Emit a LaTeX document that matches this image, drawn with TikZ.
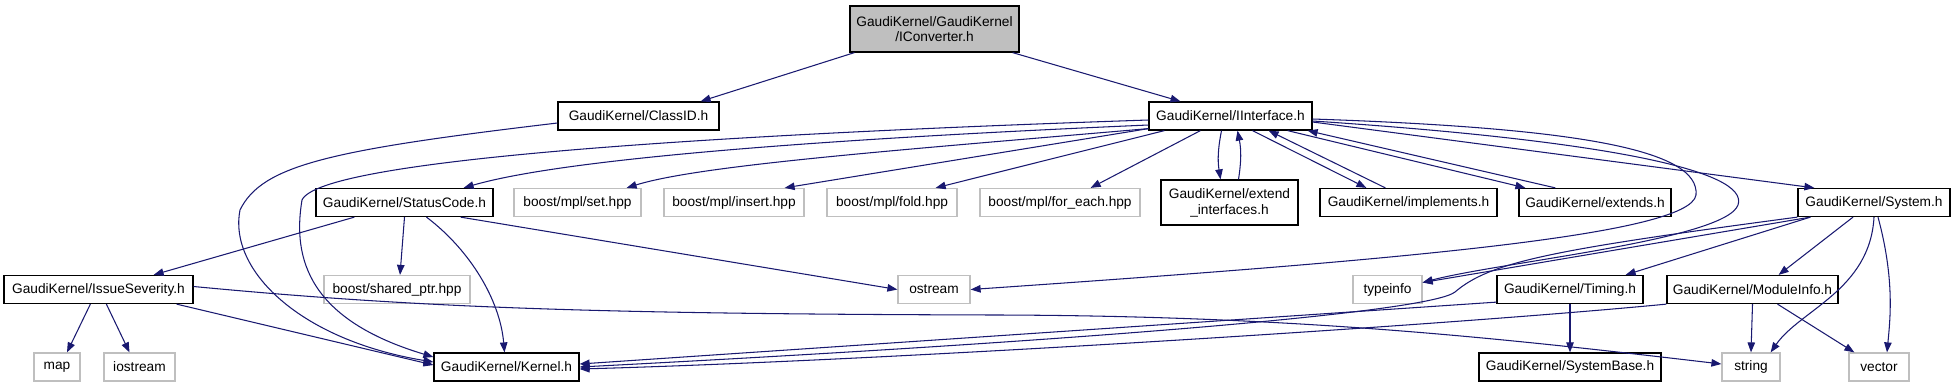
\documentclass[tikz,border=0pt]{standalone}
\usepackage{fontspec}
\setmainfont{Liberation Sans}
\usetikzlibrary{arrows.meta,calc}
\definecolor{edgeblue}{HTML}{191970}
\definecolor{boxgray}{HTML}{BFBFBF}
\tikzset{
	hdr/.style={draw=black, fill=white, line width=0.7pt, inner sep=0pt,
		minimum height=28*0.02cm, minimum width=#1*0.02cm, font=\fontsize{7.8}{9}\selectfont},
	sys/.style={hdr=#1, draw=boxgray},
	dep/.style={draw=edgeblue, line width=0.6pt, -{Triangle[length=0.2cm,width=0.15cm]}},
}
\begin{document}
\begin{tikzpicture}[x=0.02cm, y=-0.02cm]
	\useasboundingbox (0,0) rectangle (1957,387);
	% Nodes:
	\node[hdr=169, minimum height=46*0.02cm, fill=boxgray, align=center] (conv) at (934.5,29) {GaudiKernel/GaudiKernel\\/IConverter.h};
	\node[hdr=161] (classid) at (638.5,116) {GaudiKernel/ClassID.h};
	\node[hdr=163] (iface) at (1230.5,116) {GaudiKernel/IInterface.h};
	\node[hdr=177] (status) at (404.5,202.5) {GaudiKernel/StatusCode.h};
	\node[sys=127] (mplset) at (577.5,202.5) {boost/mpl/set.hpp};
	\node[sys=140] (mplinsert) at (734,202.5) {boost/mpl/insert.hpp};
	\node[sys=130] (mplfold) at (892,202.5) {boost/mpl/fold.hpp};
	\node[sys=160] (mplforeach) at (1060,202.5) {boost/mpl/for\_each.hpp};
	\node[hdr=137, minimum height=45*0.02cm, align=center] (extif) at (1229.5,202.5) {GaudiKernel/extend\\\_interfaces.h};
	\node[hdr=177] (impl) at (1408.5,202.5) {GaudiKernel/implements.h};
	\node[hdr=152] (ext) at (1595,202.5) {GaudiKernel/extends.h};
	\node[hdr=152] (system) at (1874,202.5) {GaudiKernel/System.h};
	\node[hdr=189] (issue) at (98.5,289.5) {GaudiKernel/IssueSeverity.h};
	\node[sys=146] (sharedptr) at (397,289.5) {boost/shared\_ptr.hpp};
	\node[sys=72] (ostream) at (934,289.5) {ostream};
	\node[sys=69] (typeinfo) at (1387.5,289.5) {typeinfo};
	\node[hdr=146] (timing) at (1570,289.5) {GaudiKernel/Timing.h};
	\node[hdr=171] (moduleinfo) at (1752.5,289.5) {GaudiKernel/ModuleInfo.h};
	\node[sys=46] (map) at (57,367) {map};
	\node[sys=71] (iostream) at (139.5,367) {iostream};
	\node[hdr=145] (kernel) at (506.5,367) {GaudiKernel/Kernel.h};
	\node[hdr=182] (sysbase) at (1570,367) {GaudiKernel/SystemBase.h};
	\node[sys=58] (string) at (1751,367) {string};
	\node[sys=60] (vector) at (1879,367) {vector};
	% Includes of IConverter.h and ClassID.h:
	\draw[dep] ($(conv.south west)+(5,0)$) -- ($(classid.north east)+(-19,0)$);
	\draw[dep] ($(conv.south east)+(-7,0)$) -- ($(iface.north)+(-50,0)$);
	\draw[dep] ($(classid.west)+(0,7)$) .. controls (330,150) and (262,165) .. (240,210) .. controls (228,270) and (300,340) .. ($(kernel.west)+(0,-5)$);
	% Includes of IInterface.h:
	\draw[dep] ($(iface.west)+(0,4)$) .. controls (700,135) and (320,160) .. (302,200) .. controls (292,260) and (310,320) .. ($(kernel.west)+(0,-10)$);
	\draw[dep] ($(iface.west)+(0,9)$) .. controls (800,140) and (560,160) .. ($(status.north east)+(-30,0)$);
	\draw[dep] ($(iface.south west)+(0,-2)$) .. controls (900,150) and (700,165) .. ($(mplset.north east)+(-15,0)$);
	\draw[dep] ($(iface.south west)+(0,-2)$) -- ($(mplinsert.north east)+(-20,0)$);
	\draw[dep] ($(iface.south west)+(16,0)$) -- ($(mplfold.north east)+(-22,0)$);
	\draw[dep] ($(iface.south west)+(52,0)$) -- ($(mplforeach.north east)+(-50,0)$);
	\draw[dep] ($(iface.south)+(-9,0)$) to[bend right=10] ($(extif.north)+(-9,0)$);
	\draw[dep] ($(extif.north)+(9,0)$) to[bend right=10] ($(iface.south)+(7,0)$);
	\draw[dep] ($(iface.south)+(22,0)$) -- ($(impl.north west)+(47,0)$);
	\draw[dep] ($(impl.north west)+(66,0)$) -- ($(iface.south east)+(-44,0)$);
	\draw[dep] ($(iface.south east)+(-25,0)$) -- ($(ext.north west)+(7,0)$);
	\draw[dep] ($(ext.north west)+(37,0)$) -- ($(iface.south east)+(-5,0)$);
	\draw[dep] ($(iface.east)+(0,6)$) -- ($(system.north west)+(17,0)$);
	\draw[dep] ($(iface.east)+(0,3)$) .. controls (1580,128) and (1700,150) .. (1696,195) .. controls (1690,235) and (1400,260) .. (ostream.east);
	\draw[dep] ($(iface.east)+(0,5)$) .. controls (1600,140) and (1750,170) .. (1738,205) .. controls (1725,240) and (1500,262) .. ($(typeinfo.east)+(0,-7)$);
	% Includes of StatusCode.h and IssueSeverity.h:
	\draw[dep] ($(status.south west)+(39,0)$) -- ($(issue.north east)+(-40,0)$);
	\draw[dep] (status.south) -- ($(sharedptr.north)+(3,0)$);
	\draw[dep] ($(status.south)+(22,0)$) .. controls (470,250) and (500,300) .. ($(kernel.north)+(-2,0)$);
	\draw[dep] ($(status.south east)+(-33,0)$) -- (ostream.west);
	\draw[dep] ($(issue.south west)+(87,0)$) -- ($(map.north)+(10,0)$);
	\draw[dep] ($(issue.south west)+(103,0)$) -- ($(iostream.north)+(-10,0)$);
	\draw[dep] ($(issue.south east)+(-17,0)$) -- ($(kernel.west)+(0,-2)$);
	\draw[dep] ($(issue.east)+(0,-3)$) .. controls (420,308) and (600,314) .. (1000,315) .. controls (1300,316) and (1500,338) .. ($(string.west)+(0,-3)$);
	% Includes of System.h:
	\draw[dep] ($(system.south west)+(13,0)$) -- ($(typeinfo.east)+(0,-7)$);
	\draw[dep] (system.south west) .. controls (1550,250) and (1490,262) .. (1455,292) .. controls (1430,312) and (1100,340) .. (kernel.east);
	\draw[dep] ($(system.south west)+(13,0)$) -- ($(timing.north east)+(-18,0)$);
	\draw[dep] ($(system.south)+(-21,0)$) -- ($(moduleinfo.north east)+(-60,0)$);
	\draw[dep] (system.south) .. controls (1870,290) and (1800,310) .. ($(string.north east)+(-10,0)$);
	\draw[dep] ($(system.south)+(4,0)$) .. controls (1895,280) and (1890,320) .. ($(vector.north)+(8,0)$);
	% Timing.h and ModuleInfo.h:
	\draw[dep] (timing) -- (sysbase);
	\draw[dep] ($(timing.south west)+(0,-2)$) -- ($(kernel.east)+(0,-3)$);
	\draw[dep] (moduleinfo.south west) .. controls (1450,325) and (900,360) .. ($(kernel.east)+(0,2)$);
	\draw[dep] (moduleinfo.south) -- (string.north);
	\draw[dep] ($(moduleinfo.south)+(25,0)$) -- ($(vector.north west)+(6,0)$);
\end{tikzpicture}
\end{document}
